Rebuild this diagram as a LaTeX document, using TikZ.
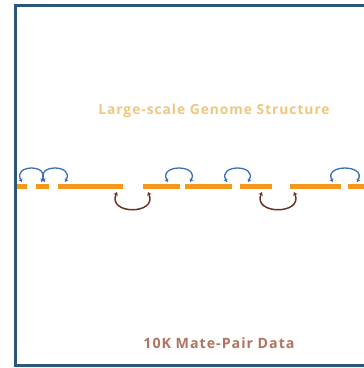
\documentclass[tikz,border=0pt]{standalone}
\usepackage{fontspec}
\setmainfont{Open Sans}
\usetikzlibrary{arrows.meta}
\definecolor{frameblue}{RGB}{44,86,122}
\definecolor{barorange}{RGB}{245,152,28}
\definecolor{pairblue}{RGB}{62,112,180}
\definecolor{pairbrown}{RGB}{105,52,36}
\definecolor{titleorange}{RGB}{242,198,125}
\definecolor{labelbrown}{RGB}{176,116,96}
\newfontfamily\spacedfont[LetterSpace=7]{Open Sans}
\tikzset{
  framestyle/.style={draw=frameblue, line width=3pt},
  segstyle/.style={draw=barorange, line width=5pt, line cap=butt},
  bluepair/.style={draw=pairblue, line width=1.3pt, {Stealth[length=3.5pt,width=4.5pt]}-{Stealth[length=3.5pt,width=4.5pt]}},
  brownpair/.style={draw=pairbrown, line width=1.5pt, {Stealth[length=3.5pt,width=4.5pt]}-{Stealth[length=3.5pt,width=4.5pt]}},
  titlestyle/.style={text=titleorange, font=\spacedfont\fontsize{13.8}{15}\selectfont\bfseries, inner sep=0pt},
  labelstyle/.style={text=labelbrown, font=\spacedfont\fontsize{14.2}{15}\selectfont\bfseries, inner sep=0pt}
}
\begin{document}
\begin{tikzpicture}[x=1pt,y=-1pt]
\useasboundingbox (0,0) rectangle (364,368);
\fill[white] (0,0) rectangle (364,368);
% frame (open to the right)
\draw[framestyle] (370,5) -- (15.5,5) -- (15.5,365.5) -- (370,365.5);
% genome bar segments
\foreach \a/\b in {17/27, 36/49, 58/123, 143/180, 185/232, 240/272, 290/341, 348/366}
  \draw[segstyle] (\a,186.5) -- (\b,186.5);
% short-range mate pairs (blue, above)
\foreach \l/\r in {22/41, 45/65, 168/190, 227/248, 333/357}
  \draw[bluepair] (\l,182) .. controls ({\l-10},164) and ({\r+10},164) .. (\r,182);
% long-range mate pairs (brown, below)
\foreach \l/\r in {117/148, 262/294}
  \draw[brownpair] (\l,192) .. controls ({\l-10},215) and ({\r+10},215) .. (\r,192);
% labels
\node[titlestyle] (title) at (214,111) {Large-scale Genome Structure};
\node[labelstyle] (data) at (219,343) {10K Mate-Pair Data};
\end{tikzpicture}
\end{document}
